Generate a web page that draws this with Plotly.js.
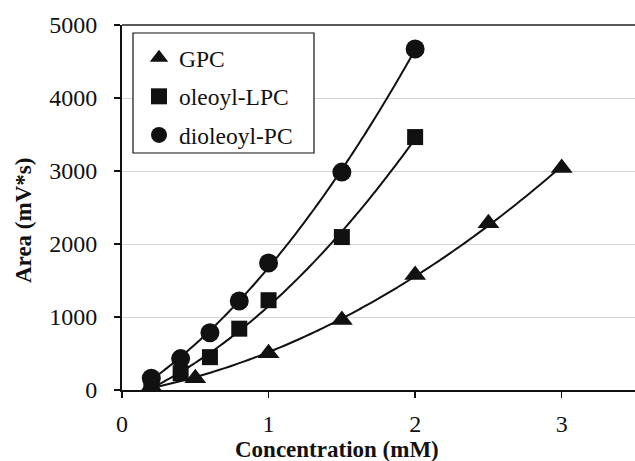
<!DOCTYPE html>
<html>
<head>
<meta charset="utf-8">
<script src="https://cdn.plot.ly/plotly-3.0.1.min.js"></script>
<style>html,body{margin:0;padding:0;background:#fff;overflow:hidden;}#chart{width:635px;height:461px;}</style>
</head>
<body>
<div id="chart"></div>
<script>
const seriesNames = ["GPC", "oleoyl-LPC", "dioleoyl-PC"];
const gpcX = [0.2, 0.5, 1, 1.5, 2, 2.5, 3];
const gpcY = [50, 160, 505, 960, 1575, 2285, 3040];
const lpcX = [0.2, 0.4, 0.6, 0.8, 1, 1.5, 2];
const lpcY = [40, 230, 450, 840, 1230, 2095, 3465];
const dpcX = [0.2, 0.4, 0.6, 0.8, 1, 1.5, 2];
const dpcY = [160, 430, 785, 1220, 1740, 2985, 4670];
const xTicks = [0, 1, 2, 3];
const yTicks = [0, 1000, 2000, 3000, 4000, 5000];

// quadratic least-squares trendline (like a spreadsheet polynomial trendline)
function quadFit(xs, ys) {
  let S = [0,0,0,0,0], T = [0,0,0];
  for (let i = 0; i < xs.length; i++) {
    let p = 1;
    for (let k = 0; k < 5; k++) { S[k] += p; if (k < 3) T[k] += p * ys[i]; p *= xs[i]; }
  }
  const A = [[S[0],S[1],S[2],T[0]],[S[1],S[2],S[3],T[1]],[S[2],S[3],S[4],T[2]]];
  for (let c = 0; c < 3; c++) {
    for (let r = c + 1; r < 3; r++) {
      const f = A[r][c] / A[c][c];
      for (let k = c; k < 4; k++) A[r][k] -= f * A[c][k];
    }
  }
  const b = [0,0,0];
  for (let r = 2; r >= 0; r--) {
    let s = A[r][3];
    for (let k = r + 1; k < 3; k++) s -= A[r][k] * b[k];
    b[r] = s / A[r][r];
  }
  const lo = Math.min(...xs), hi = Math.max(...xs), n = 80;
  const fx = [], fy = [];
  for (let i = 0; i <= n; i++) { const x = lo + (hi - lo) * i / n; fx.push(x); fy.push(b[0] + b[1]*x + b[2]*x*x); }
  return {x: fx, y: fy};
}

const series = [
  {name: seriesNames[0], x: gpcX, y: gpcY, symbol: "triangle-up", size: 19},
  {name: seriesNames[1], x: lpcX, y: lpcY, symbol: "square", size: 16},
  {name: seriesNames[2], x: dpcX, y: dpcY, symbol: "circle", size: 19}
];

const traces = [];
series.forEach((s, i) => {
  const f = quadFit(s.x, s.y);
  traces.push({x: f.x, y: f.y, mode: "lines", line: {color: "#111", width: 2, shape: "spline"}, showlegend: false, hoverinfo: "skip"});
});
series.forEach((s, i) => {
  traces.push({x: s.x, y: s.y, name: s.name, mode: "markers", legendgroup: "g" + i,
    marker: {symbol: s.symbol, size: s.size, color: "#111"}});
});

const fam = "Liberation Serif, Times New Roman, serif";
const font = {family: fam, size: 23.5, color: "#111"};
const tfont = {family: fam, size: 24, color: "#111"};
const bfont = {family: fam, size: 23, color: "#111", weight: "bold"};

const layout = {
  width: 635, height: 461,
  margin: {l: 122, r: 0, t: 25, b: 71},
  paper_bgcolor: "#fff", plot_bgcolor: "#fff",
  font: font,
  showlegend: true,
  legend: {x: (139 - 122) / 513, y: (390 - 36) / 365, xanchor: "left", yanchor: "top", bgcolor: "rgba(0,0,0,0)",
    borderwidth: 0, font: font, tracegroupgap: 5, traceorder: "grouped", itemwidth: 30},
  xaxis: {range: [0, 3.5], tickvals: xTicks, ticktext: xTicks.map(String), ticks: "outside", ticklen: 6,
    tickcolor: "#111", tickwidth: 1.5, showgrid: false, zeroline: false, showline: true, linecolor: "#111",
    linewidth: 2, mirror: false, tickfont: tfont, ticklabelstandoff: 5},
  yaxis: {range: [0, 5000], tickvals: yTicks, ticktext: yTicks.map(String), ticks: "outside", ticklen: 6,
    tickcolor: "#111", tickwidth: 1.5, showgrid: true, gridcolor: "#d4d4d4", gridwidth: 1, zeroline: false,
    showline: true, linecolor: "#111", linewidth: 2, mirror: false, tickfont: tfont, ticklabelstandoff: 12},
  shapes: [
    {type: "line", xref: "paper", yref: "paper", x0: 0, x1: 1, y0: 1, y1: 1, line: {color: "#222", width: 1.5}},
    {type: "rect", xref: "paper", yref: "paper", layer: "above",
     x0: (133 - 122) / 513, x1: (314 - 122) / 513, y0: (390 - 153) / 365, y1: (390 - 33) / 365,
     fillcolor: "#fff", line: {color: "#111", width: 1.2}}
  ],
  annotations: [
    {text: "<b>Concentration (mM)</b>", xref: "paper", yref: "paper", x: (337 - 122) / 513, y: (390 - 449) / 365,
     xanchor: "center", yanchor: "middle", showarrow: false, font: bfont},
    {text: "<b>Area (mV*s)</b>", xref: "paper", yref: "paper", x: (23 - 122) / 513, y: (390 - 221) / 365, textangle: -90,
     xanchor: "center", yanchor: "middle", showarrow: false, font: bfont}
  ]
};

Plotly.newPlot("chart", traces, layout, {displayModeBar: false, staticPlot: true});
</script>
</body>
</html>
